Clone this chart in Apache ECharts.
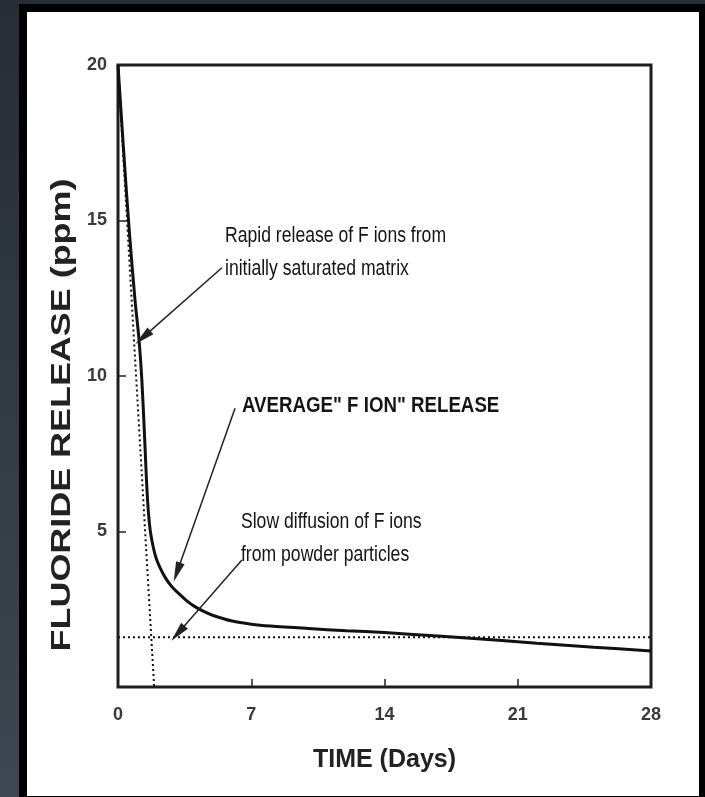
<!DOCTYPE html>
<html><head><meta charset="utf-8">
<script src="https://cdn.jsdelivr.net/npm/echarts@6/dist/echarts.min.js"></script>
<style>
html,body{margin:0;padding:0;width:705px;height:797px;overflow:hidden;background:linear-gradient(#262d34,#3e4751);}
#frame{position:absolute;left:19px;top:4px;width:686px;height:793px;background:#000;}
#panel{position:absolute;left:27px;top:12px;width:672px;height:784px;background:#fff;}
#chart{position:absolute;left:0;top:0;width:705px;height:797px;}
</style></head><body>
<div id="frame"></div><div id="panel"></div><div id="chart"></div>
<script>
// ---- data ----
const xTicks = [0, 7, 14, 21, 28];
const yTicks = [0, 5, 10, 15, 20];
const solidDays = [0, 0.3, 0.6, 0.9, 1.1, 1.25, 1.4, 1.5, 1.6, 1.7, 1.85, 2.0, 2.2, 2.5, 2.8, 3.2, 3.6, 4.0, 4.5, 5.0, 6.0, 7.0, 8.0, 10, 12, 14, 17, 20, 22, 25, 28];
const solidPpm  = [20, 17.2, 14.6, 12.4, 11.2, 9.9, 8.0, 6.6, 5.6, 5.0, 4.5, 4.15, 3.85, 3.5, 3.25, 3.0, 2.78, 2.6, 2.43, 2.3, 2.12, 2.02, 1.96, 1.88, 1.81, 1.75, 1.63, 1.5, 1.41, 1.28, 1.16];
const rapidDays = [0, 1.9];
const rapidPpm  = [20, 0];
const slowDays  = [0, 28];
const slowPpm   = [1.6, 1.6];
const noteTexts = ['Rapid release of F ions from\ninitially saturated matrix', 'AVERAGE" F ION" RELEASE', 'Slow diffusion of F ions\nfrom powder particles'];
const noteAt    = [[5.62, 13.98], [6.51, 9.05], [6.46, 4.77]];
const arrowFrom = [[5.46, 13.48], [6.15, 8.96], [6.51, 4.08]];
const arrowTo   = [[1.31, 11.24], [3.10, 3.69], [3.15, 1.73]];
const xTitle = 'TIME (Days)';
const yTitle = 'FLUORIDE RELEASE (ppm)';

const SANS = '"Liberation Sans",Arial,Helvetica,sans-serif';
const zip = (a, b) => a.map((v, i) => [v, b[i]]);
const noteFonts = ['22px ' + SANS, 'bold 22px ' + SANS, '22px ' + SANS];
const noteScale = [0.80, 0.85, 0.80];

const chart = echarts.init(document.getElementById('chart'), null, {renderer: 'canvas'});
chart.setOption({
  animation: false,
  backgroundColor: 'transparent',
  grid: {left: 118, right: 54, top: 65, bottom: 110, show: true, borderColor: '#1e1e1e', borderWidth: 3, backgroundColor: 'transparent'},
  xAxis: {
    type: 'value', min: xTicks[0], max: xTicks[xTicks.length - 1], interval: 7,
    axisLine: {show: false},
    axisTick: {show: true, inside: true, length: 8, lineStyle: {color: '#222', width: 1.5}},
    splitLine: {show: false},
    axisLabel: {fontFamily: SANS, fontSize: 18, fontWeight: 'bold', color: '#3a3a3a', margin: 19},
    name: xTitle, nameLocation: 'middle', nameGap: 61,
    nameTextStyle: {fontFamily: SANS, fontSize: 25, fontWeight: 'bold', color: '#222'}
  },
  yAxis: {
    type: 'value', min: yTicks[0], max: yTicks[yTicks.length - 1], interval: 5,
    axisLine: {show: false},
    axisTick: {show: true, inside: true, length: 8, lineStyle: {color: '#222', width: 1.5}},
    splitLine: {show: false},
    axisLabel: {fontFamily: SANS, fontSize: 18, fontWeight: 'bold', color: '#3a3a3a', margin: 11,
      formatter: v => (v === 0 ? '' : String(v))}
  },
  graphic: [{
    type: 'text', x: 63, y: 415, rotation: Math.PI / 2, scaleX: 1.33, scaleY: 1,
    style: {text: yTitle, font: 'bold 27px ' + SANS, fill: '#222', textAlign: 'center', textVerticalAlign: 'middle'}
  }],
  series: [
    {type: 'line', name: 'average', data: zip(solidDays, solidPpm), smooth: 0.3, showSymbol: false, symbol: 'none',
      lineStyle: {color: '#111', width: 3}, z: 3},
    {type: 'line', name: 'rapid', data: zip(rapidDays, rapidPpm), showSymbol: false, symbol: 'none',
      lineStyle: {color: '#111', width: 2, type: [2, 3]}, z: 2},
    {type: 'line', name: 'slow', data: zip(slowDays, slowPpm), showSymbol: false, symbol: 'none',
      lineStyle: {color: '#111', width: 2, type: [2, 3]}, z: 2},
    {type: 'custom', name: 'notes', silent: true, z: 5,
      data: noteAt.map((p, i) => [p[0], p[1], i]),
      renderItem: (params, api) => {
        const i = api.value(2);
        const pt = api.coord([api.value(0), api.value(1)]);
        return {type: 'text', x: pt[0], y: pt[1], scaleX: noteScale[i],
          style: {text: noteTexts[i], font: noteFonts[i], fill: '#151515', textAlign: 'left', textVerticalAlign: 'middle', lineHeight: 33}};
      },
      markLine: {silent: true, symbol: ['none', 'triangle'],
        label: {show: false},
        lineStyle: {color: '#222', width: 1.5, type: 'solid'},
        data: arrowFrom.map((f, i) => [{coord: f, symbol: 'none'}, {coord: arrowTo[i], symbol: 'triangle', symbolSize: [9, 20]}])
      }
    }
  ]
});
</script>
</body></html>
